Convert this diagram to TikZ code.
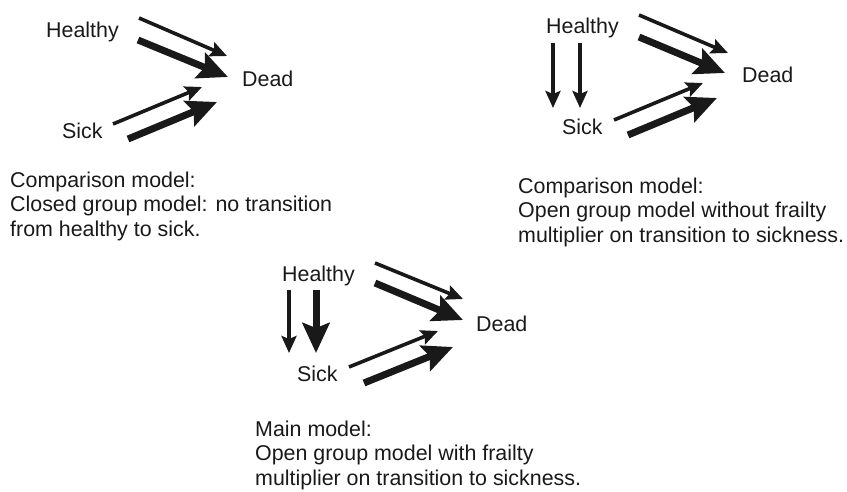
\documentclass[tikz,border=0pt]{standalone}
\usepackage{fontspec}
\setmainfont{Liberation Sans}
\usetikzlibrary{arrows.meta}
\begin{document}
\begin{tikzpicture}[x=1pt,y=-1pt,
  lbl/.style={inner sep=0pt,anchor=base west,font=\fontsize{21.4}{24}\selectfont,text=black!90},
  captext/.style={inner sep=0pt,anchor=base west,align=left,font=\fontsize{21.4}{24.2}\selectfont,text=black!90},
  thinarr/.style={draw=black!90,line width=3.6pt,-{Stealth[length=17pt,width=15pt,inset=3pt]}},
  thickarr/.style={draw=black!90,line width=7pt,-{Stealth[length=30pt,width=27pt,inset=5pt]}}]
\useasboundingbox (0,0) rectangle (847,491);

% ---- top-left: closed group
\node[lbl] (h1) at (46,37) {Healthy};
\node[lbl] (d1) at (242,86) {Dead};
\node[lbl] (s1) at (62,138) {Sick};
\coordinate (h1a) at (139,18);  \coordinate (d1a) at (227,56);
\coordinate (h1b) at (138,40);  \coordinate (d1b) at (228,77);
\coordinate (s1a) at (113,124); \coordinate (d1c) at (202,87);
\coordinate (s1b) at (128,139); \coordinate (d1d) at (217,102);
\draw[thinarr] (h1a) -- (d1a);
\draw[thickarr] (h1b) -- (d1b);
\draw[thinarr] (s1a) -- (d1c);
\draw[thickarr] (s1b) -- (d1d);
\node[captext] (c1) at (10,236) {Comparison model:\\Closed group model: no transition\\from healthy to sick.};

% ---- top-right: open group without frailty
\node[lbl] (h2) at (546,33) {Healthy};
\node[lbl] (d2) at (742,82) {Dead};
\node[lbl] (s2) at (562,134) {Sick};
\coordinate (h2v1) at (553,43);  \coordinate (s2v1) at (553,108);
\coordinate (h2v2) at (580,43);  \coordinate (s2v2) at (580,108);
\coordinate (h2a) at (639,15);  \coordinate (d2a) at (728,53);
\coordinate (h2b) at (639,37);  \coordinate (d2b) at (725,73);
\coordinate (s2a) at (614,120); \coordinate (d2c) at (703,83);
\coordinate (s2b) at (628,135); \coordinate (d2d) at (717,98);
\draw[thinarr] (h2v1) -- (s2v1);
\draw[thinarr] (h2v2) -- (s2v2);
\draw[thinarr] (h2a) -- (d2a);
\draw[thickarr] (h2b) -- (d2b);
\draw[thinarr] (s2a) -- (d2c);
\draw[thickarr] (s2b) -- (d2d);
\node[captext] (c2) at (518,242) {Comparison model:\\Open group model without frailty\\multiplier on transition to sickness.};

% ---- bottom: main model
\node[lbl] (h3) at (282,281) {Healthy};
\node[lbl] (d3) at (476,331) {Dead};
\node[lbl] (s3) at (297,381) {Sick};
\coordinate (h3v1) at (289,290);  \coordinate (s3v1) at (289,353);
\coordinate (h3v2) at (316,290);  \coordinate (s3v2) at (316,353);
\coordinate (h3a) at (375,263);  \coordinate (d3a) at (463,299);
\coordinate (h3b) at (375,283);  \coordinate (d3b) at (463,320);
\coordinate (s3a) at (349,367); \coordinate (d3c) at (438,331);
\coordinate (s3b) at (364,383); \coordinate (d3d) at (453,347);
\draw[thinarr] (h3v1) -- (s3v1);
\draw[thickarr] (h3v2) -- (s3v2);
\draw[thinarr] (h3a) -- (d3a);
\draw[thickarr] (h3b) -- (d3b);
\draw[thinarr] (s3a) -- (d3c);
\draw[thickarr] (s3b) -- (d3d);
\node[captext] (c3) at (255,485) {Main model:\\Open group model with frailty\\multiplier on transition to sickness.};
\end{tikzpicture}
\end{document}
